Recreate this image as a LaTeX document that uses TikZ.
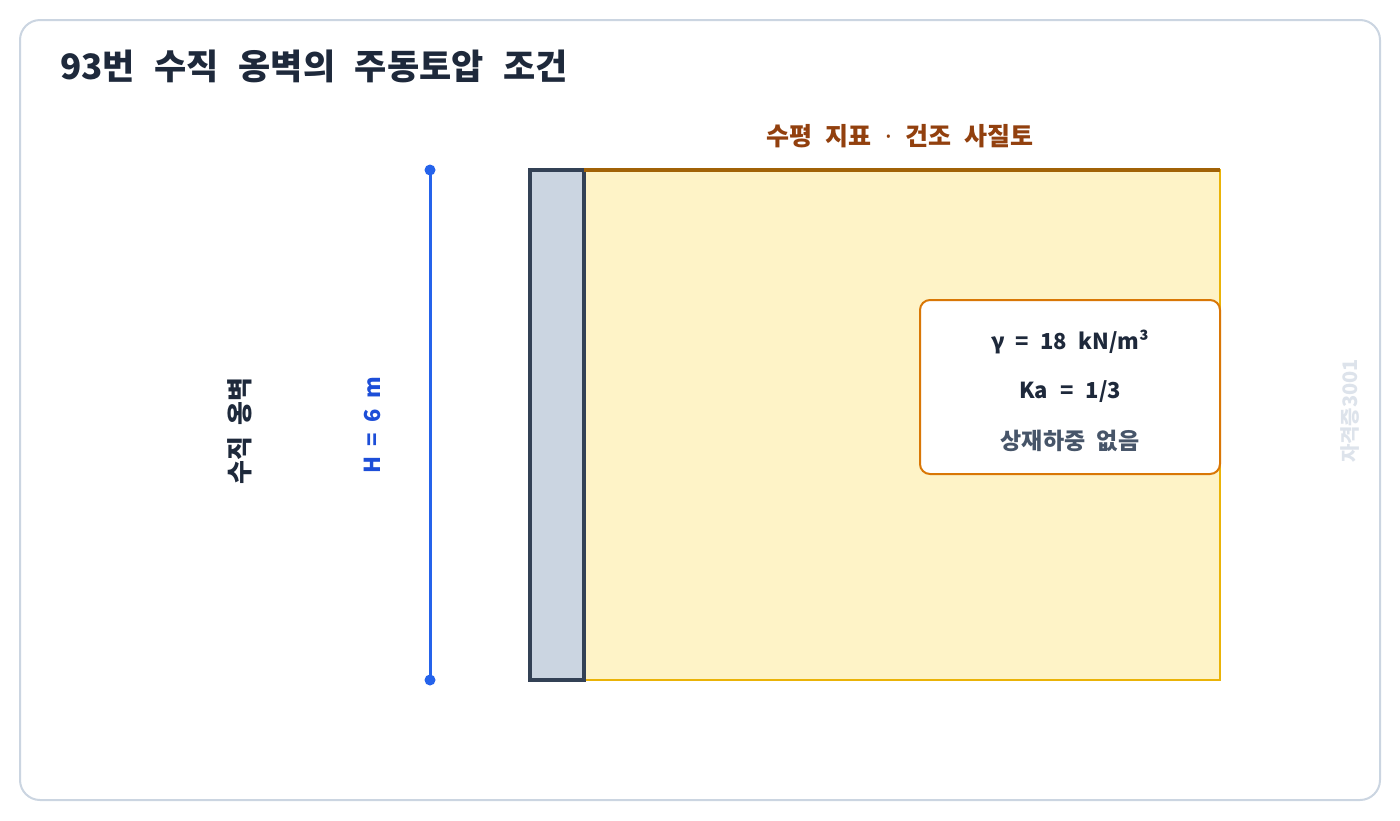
\documentclass[tikz,border=0pt]{standalone}
\usepackage{fontspec}
\setmainfont{Noto Sans CJK KR}
\newfontfamily\latinfont{Noto Sans}
\usepackage{tikz}
\usetikzlibrary{positioning}
\definecolor{frameline}{HTML}{CBD5E1}
\definecolor{inkdark}{HTML}{1E293B}
\definecolor{wallfill}{HTML}{CBD5E1}
\definecolor{walldraw}{HTML}{334155}
\definecolor{soilfill}{HTML}{FEF3C7}
\definecolor{soildraw}{HTML}{EAB308}
\definecolor{groundline}{HTML}{A16207}
\definecolor{soiltext}{HTML}{92400E}
\definecolor{dimline}{HTML}{2563EB}
\definecolor{dimtext}{HTML}{1D4ED8}
\definecolor{boxdraw}{HTML}{D97706}
\definecolor{notetext}{HTML}{475569}
\definecolor{marktext}{HTML}{DDE3EB}
\newcommand\labelfont[2]{\bfseries\fontsize{#1}{#1}\selectfont\spaceskip=#2\fontdimen2\font\relax}
\tikzset{
	label text/.style 2 args={font={\labelfont{#1}{#2}}, inner sep=0pt},
	dim dot/.style={circle, fill=dimline, inner sep=0pt, minimum size=11pt},
}

\begin{document}
\begin{tikzpicture}[x=1pt, y=-1pt]
	\useasboundingbox (0, 0) rectangle (1400, 820);
	\draw[rounded corners=20pt, line width=2pt, draw=frameline, fill=white] (20, 20) rectangle (1380, 800);
	
	\node[label text={35}{2.45}, text=inkdark, anchor=west] (title) at (60, 66) {93번 수직 옹벽의 주동토압 조건};
	
	% wall and backfill
	\draw[line width=2pt, draw=soildraw, fill=soilfill] (584, 170) rectangle (1220, 680);
	\draw[line width=4pt, draw=walldraw, fill=wallfill] (530, 170) rectangle (584, 680);
	\coordinate (ground west) at (584, 170);
	\coordinate (ground east) at (1220, 170);
	\draw[line width=4pt, draw=groundline] (ground west) -- (ground east);
	\node[label text={25}{2.3}, text=soiltext] (soil) at (900, 136) {수평 지표 {\latinfont ·} 건조 사질토};
	
	% height
	\node[dim dot] (dim top) at (430, 170) {};
	\node[dim dot] (dim bottom) at (430, 680) {};
	\draw[line width=3pt, draw=dimline] (dim top.center) -- (dim bottom.center);
	\node[label text={22}{2.1}, text=dimtext, rotate=90] (height) at (372, 425) {H = 6 m};
	\node[label text={26}{2}, text=inkdark, rotate=90] (wall) at (240, 431) {수직 옹벽};
	
	% soil data
	\draw[rounded corners=10pt, line width=2pt, draw=boxdraw, fill=white] (920, 300) rectangle (1220, 474);
	\node[label text={22}{2.2}, text=inkdark] (gamma) at (1070, 342) {γ = 18 kN/m³};
	\node[label text={22}{2.4}, text=inkdark] (ka) at (1070, 392) {Ka = 1/3};
	\node[label text={23}{2.2}, text=notetext] (surcharge) at (1070, 441) {상재하중 없음};
	
	\node[label text={20}{1}, text=marktext, rotate=90] (mark) at (1350, 411) {자격증3001};
\end{tikzpicture}
\end{document}
